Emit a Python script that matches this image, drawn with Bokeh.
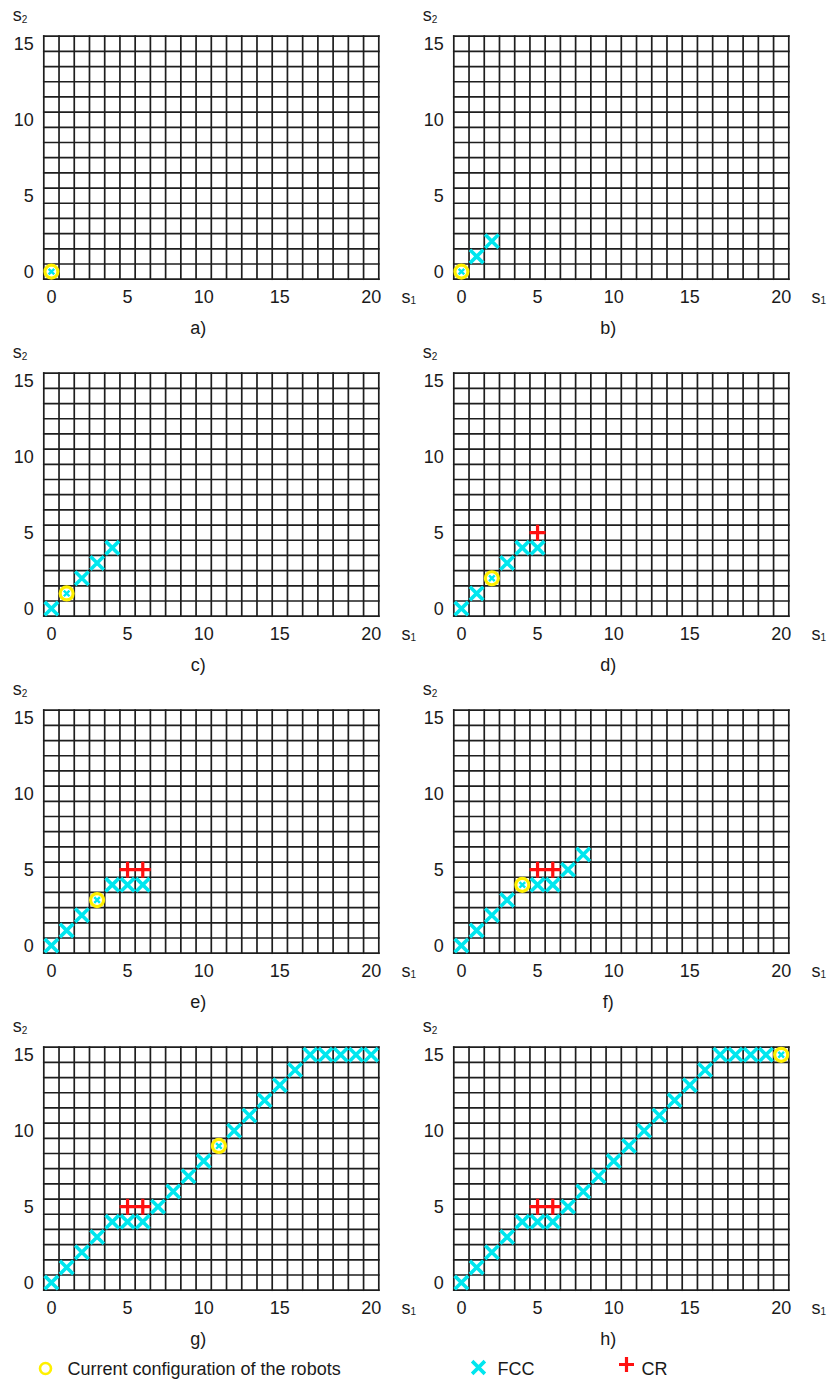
from bokeh.plotting import figure
from bokeh.layouts import column, row
from bokeh.models import FixedTicker, Label
from bokeh.embed import file_html
from bokeh.resources import INLINE
from bokeh.core.properties import value

# ---- data -------------------------------------------------------------
# FCC path through the configuration grid (cell indices s1, s2)
fcc_s1 = [0, 1, 2, 3, 4, 5, 6, 7, 8, 9, 10, 11, 12, 13, 14, 15, 16, 17, 18, 19, 20, 21]
fcc_s2 = [0, 1, 2, 3, 4, 4, 4, 5, 6, 7, 8, 9, 10, 11, 12, 13, 14, 15, 15, 15, 15, 15]
# CR cells
cr_s1 = [5, 6]
cr_s2 = [5, 5]
# per-panel state
panel_names = ["a)", "b)", "c)", "d)", "e)", "f)", "g)", "h)"]
n_fcc = [1, 3, 5, 6, 7, 9, 22, 22]
n_cr = [0, 0, 0, 1, 2, 2, 2, 2]
cur_s1 = [0, 0, 1, 2, 3, 4, 11, 21]
cur_s2 = [0, 0, 1, 2, 3, 4, 9, 15]
# grid size and ticks
n_cols = 22
n_rows = 16
x_tick_labels = ["0", "5", "10", "15", "20"]
y_tick_labels = ["0", "5", "10", "15"]
legend_labels = ["Current configuration of the robots", "FCC", "CR"]

# ---- style ------------------------------------------------------------
FONT = "Liberation Sans"
TXT = "#1a1a1a"
CYAN = "#00e6ee"
RED = "#ff1010"
YELLOW = "#fff000"
GRIDC = "#1e1e1e"

x_tick_pos = [0, 5, 10, 15, 21]
y_tick_pos = [0, 5, 10, 15]

PXX = 335 / n_cols      # px per cell horizontally
PXY = 243 / n_rows      # px per cell vertically


def panel(i):
    right_col = i % 2 == 1
    first_row = i < 2
    w = 412 if right_col else 418
    h = 339 if first_row else 337
    left_px = 35.3 if right_col else 43.3
    top_px = 35.7 if first_row else 33.7
    x0 = -0.5 - left_px / PXX
    y1 = n_rows - 0.5 + top_px / PXY
    p = figure(width=w, height=h, min_border=0,
               x_range=(x0, x0 + w / PXX), y_range=(y1 - h / PXY, y1),
               toolbar_location=None, output_backend="svg",
               background_fill_color="white", border_fill_color="white",
               outline_line_color=None)
    p.grid.visible = False

    # cell grid
    vx = [k - 0.5 for k in range(n_cols + 1)]
    hy = [k - 0.5 for k in range(n_rows + 1)]
    p.segment(x0=vx, x1=vx, y0=[-0.5] * len(vx), y1=[n_rows - 0.5] * len(vx),
              line_color=GRIDC, line_width=1.7, line_cap="square")
    p.segment(x0=[-0.5] * len(hy), x1=[n_cols - 0.5] * len(hy), y0=hy, y1=hy,
              line_color=GRIDC, line_width=1.7, line_cap="square")

    # axes pinned to the grid edges
    p.xaxis.fixed_location = -0.5
    p.yaxis.fixed_location = -0.5
    p.xaxis.ticker = FixedTicker(ticks=x_tick_pos)
    p.xaxis.major_label_overrides = {t: l for t, l in zip(x_tick_pos, x_tick_labels)}
    p.yaxis.ticker = FixedTicker(ticks=y_tick_pos)
    p.yaxis.major_label_overrides = {t: l for t, l in zip(y_tick_pos, y_tick_labels)}
    for ax in (p.xaxis[0], p.yaxis[0]):
        ax.axis_line_color = None
        ax.major_tick_line_color = None
        ax.minor_tick_line_color = None
        ax.major_tick_out = 0
        ax.major_tick_in = 0
        ax.major_label_text_font = FONT
        ax.major_label_text_font_size = "18px"
        ax.major_label_text_color = TXT
    p.xaxis.major_label_standoff = 11
    p.yaxis.major_label_standoff = 10

    # FCC (big X), excluding the current configuration
    pts = [(s, t) for s, t in zip(fcc_s1[:n_fcc[i]], fcc_s2[:n_fcc[i]])
           if not (s == cur_s1[i] and t == cur_s2[i])]
    p.scatter([q[0] for q in pts], [q[1] for q in pts], marker="x", size=19,
              line_color=CYAN, line_width=3.6)
    # CR (red +)
    if n_cr[i]:
        p.scatter(cr_s1[:n_cr[i]], cr_s2[:n_cr[i]], marker="cross", size=16,
                  line_color=RED, line_width=3.2)
    # current configuration
    p.scatter([cur_s1[i]], [cur_s2[i]], marker="circle", size=13,
              fill_color=None, line_color=YELLOW, line_width=3.2)
    p.scatter([cur_s1[i]], [cur_s2[i]], marker="x", size=8,
              line_color=CYAN, line_width=2.4)

    # axis names and caption
    def lab(x, y, t, size, align="left", base="middle"):
        p.add_layout(Label(x=x, y=y, text=t, text_font=FONT, text_font_size=size,
                           text_color=TXT, text_align=align, text_baseline=base))
    lab(-2.54, 16.89, "s", "18px")
    lab(-1.95, 16.66, "2", "10px")
    lab(22.99, -1.66, "s", "18px")
    lab(23.58, -1.90, "1", "10px")
    lab(9.65, -3.71, panel_names[i], "18px", align="center")
    return p


panels = [panel(i) for i in range(8)]

leg = figure(width=830, height=40, x_range=(0, 830), y_range=(0, 40),
             toolbar_location=None, output_backend="svg", min_border=0,
             outline_line_color=None)
leg.axis.visible = False
leg.grid.visible = False
leg.scatter([45], [22], marker="circle", size=11, fill_color=None,
            line_color=YELLOW, line_width=2.6)
leg.scatter([478], [23], marker="x", size=18, line_color=CYAN, line_width=3.6)
leg.scatter([626], [26], marker="cross", size=15, line_color=RED, line_width=3.2)
leg.text(x=[67, 497, 641], y=[22, 22, 22], text=legend_labels,
         text_font=value(FONT), text_font_size="18px", text_color=TXT,
         text_baseline="middle", text_align="left")

layout = column(row(panels[0], panels[1]), row(panels[2], panels[3]),
                row(panels[4], panels[5]), row(panels[6], panels[7]), leg)

with open("out.html", "w") as f:
    f.write(file_html(layout, INLINE))
